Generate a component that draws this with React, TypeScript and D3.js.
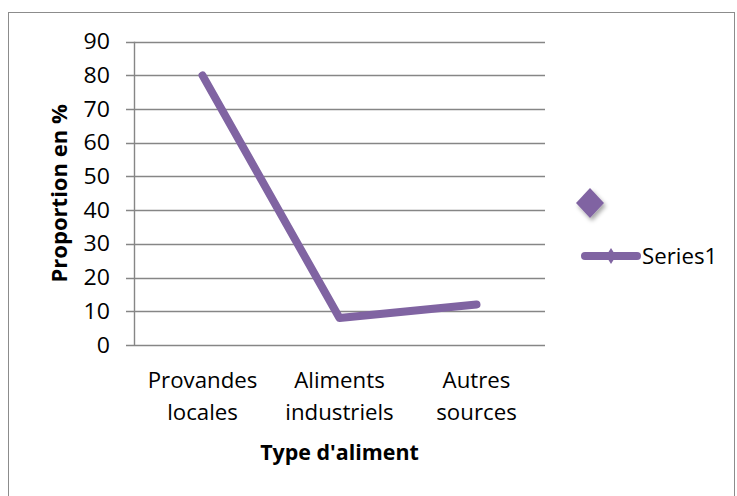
import React from "react";
import * as d3 from "d3";

const categories: string[][] = [
  ["Provandes", "locales"],
  ["Aliments", "industriels"],
  ["Autres", "sources"],
];
const seriesValues: number[] = [80, 8, 12];
const yTicks: number[] = [0, 10, 20, 30, 40, 50, 60, 70, 80, 90];
const seriesName = "Series1";
const xTitle = "Type d'aliment";
const yTitle = "Proportion en %";

const W = 737;
const H = 496;
const plot = { left: 134, right: 545, top: 41.7, bottom: 345 };
const PURPLE = "#8064A2";
const GRID = "#868686";
const FONT = "'Open Sans', 'Noto Sans', sans-serif";
const SX = 1.06;
const FS = 21;

export default function App() {
  const x = d3
    .scaleBand<number>()
    .domain(categories.map((_, i) => i))
    .range([plot.left, plot.right]);
  const y = d3.scaleLinear().domain([0, 90]).range([plot.bottom, plot.top]);
  const line = d3
    .line<number>()
    .x((_, i) => (x(i) as number) + x.bandwidth() / 2)
    .y((d) => y(d));

  const diamond = (cx: number, cy: number, rx: number, ry: number) =>
    `M${cx},${cy - ry}L${cx + rx},${cy}L${cx},${cy + ry}L${cx - rx},${cy}Z`;

  return (
    <svg
      width={W}
      height={H}
      style={{ position: "absolute", left: 0, top: 0, background: "#fff" }}
      fontFamily={FONT}
    >
      <defs>
        <filter id="shadow" x="-50%" y="-50%" width="200%" height="200%">
          <feDropShadow dx="2" dy="3" stdDeviation="2" floodColor="#000" floodOpacity="0.35" />
        </filter>
      </defs>
      <rect x={8.5} y={12.5} width={726} height={500} fill="#fff" stroke="#8c8c8c" strokeWidth={1} />

      {/* gridlines */}
      {yTicks.map((t) => (
        <g key={t}>
          <line
            x1={plot.left - 8}
            x2={plot.right}
            y1={Math.round(y(t)) + 0.5}
            y2={Math.round(y(t)) + 0.5}
            stroke={GRID}
            strokeWidth={1.4}
          />
          <text
            transform={`translate(${plot.left - 24},${y(t)}) scale(1.1,1)`}
            textAnchor="end"
            dy="0.36em"
            fontSize={FS}
            fill="#000"
          >
            {t}
          </text>
        </g>
      ))}
      <line
        x1={plot.left + 0.5}
        x2={plot.left + 0.5}
        y1={y(90)}
        y2={y(0)}
        stroke={GRID}
        strokeWidth={1.4}
      />

      {/* category labels */}
      {categories.map((lines, i) => (
        <g key={i}>
          {lines.map((l, j) => (
            <text
              key={j}
              transform={`translate(${(x(i) as number) + x.bandwidth() / 2},${388 + j * 32}) scale(${SX},1)`}
              textAnchor="middle"
              fontSize={FS}
              fill="#000"
            >
              {l}
            </text>
          ))}
        </g>
      ))}

      {/* axis titles */}
      <text
        transform={`translate(${(plot.left + plot.right) / 2},460) scale(1.02,1)`}
        textAnchor="middle"
        fontSize={FS}
        fontWeight="bold"
        fill="#000"
      >
        {xTitle}
      </text>
      <text
        transform={`translate(67,${(plot.top + plot.bottom) / 2}) rotate(-90) scale(1.05,1)`}
        textAnchor="middle"
        fontSize={FS}
        fontWeight="bold"
        fill="#000"
      >
        {yTitle}
      </text>

      {/* series line */}
      <path
        d={line(seriesValues) || ""}
        fill="none"
        stroke={PURPLE}
        strokeWidth={8}
        strokeLinecap="round"
        strokeLinejoin="round"
      />

      {/* legend */}
      <path d={diamond(590, 203, 14, 15)} fill={PURPLE} filter="url(#shadow)" />
      <line x1={585} x2={637} y1={256} y2={256} stroke={PURPLE} strokeWidth={8} strokeLinecap="round" />
      <path d={diamond(611, 256, 5, 8)} fill={PURPLE} />
      <text
        transform={`translate(642,256) scale(${SX},1)`}
        dy="0.36em"
        fontSize={FS}
        fill="#000"
      >
        {seriesName}
      </text>
    </svg>
  );
}
